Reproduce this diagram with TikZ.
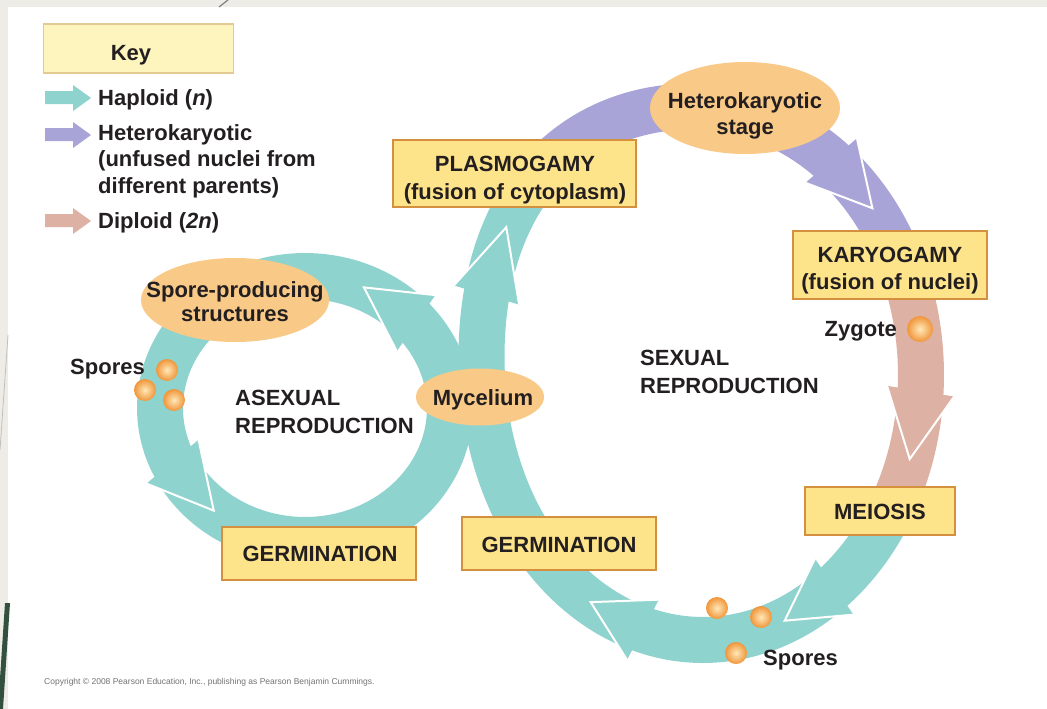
\documentclass[tikz,border=0pt]{standalone}
\usepackage{fontspec}
\setmainfont{Liberation Sans}
\usetikzlibrary{calc,shapes.geometric}

\definecolor{tealc}{HTML}{8FD3CF}
\definecolor{purpc}{HTML}{A8A4D7}
\definecolor{pinkc}{HTML}{DDB1A4}
\definecolor{boxfill}{HTML}{FDE38A}
\definecolor{boxdraw}{HTML}{D4903E}
\definecolor{keyfill}{HTML}{FEF4BE}
\definecolor{keydraw}{HTML}{E2CA92}
\definecolor{ellfill}{HTML}{F9C987}
\definecolor{txt}{HTML}{231F20}
\definecolor{slidebg}{HTML}{EEECE6}
\definecolor{slidegreen}{HTML}{33503F}
\definecolor{sporeL}{HTML}{FFE9B8}
\definecolor{sporeD}{HTML}{F0953A}

\tikzset{
  band/.style={line width=46pt, line cap=butt, line join=round},
  lbl/.style={font=\fontsize{22}{26}\selectfont\bfseries, text=txt, inner sep=0pt, anchor=base},
  lbll/.style={lbl, anchor=base west},
  stagebox/.style={draw=boxdraw, fill=boxfill, line width=1.6pt, inner sep=0pt},
  stageell/.style={ellipse, fill=ellfill, inner sep=0pt},
  spore/.style={inner color=sporeL, outer color=sporeD},
  headedge/.style={white, line width=2pt, line join=miter},
}

% #1 name prefix, #2 colour, #3 x-function, #4 y-function, #5 tip parameter, #6 back parameter
\newcommand{\arrowhd}[6]{%
  \coordinate (#1T) at ({#3(#5)},{#4(#5)});
  \coordinate (#1B) at ({#3(#6)},{#4(#6)});
  \coordinate (#1L) at ($(#1B)!34pt!90:(#1T)$);
  \coordinate (#1R) at ($(#1B)!34pt!-90:(#1T)$);
  \fill[#2] (#1T) -- (#1L) -- (#1R) -- cycle;
  \draw[headedge] (#1L) -- (#1T) -- (#1R);
}

\begin{document}
\begin{tikzpicture}[x=1pt,y=-1pt,
  declare function={
    bump(\t)=16*exp(0-min(((\t-225)/35)^2,8));
    sx(\t)=703+(218+bump(\t))*cos(\t);
    sy(\t)=375+(265+bump(\t))*sin(\t);
    ax(\t)=305+145*cos(\t);
    ay(\t)=408+132*sin(\t);
  }]
\useasboundingbox (0,0) rectangle (1047,709);
% slide background
\fill[slidebg] (0,0) rectangle (1047,709);
\fill[white] (8,7) rectangle (1047,709);
\draw[gray, line width=1.2pt] (228,0) -- (219,7);
\draw[black!25, line width=0.8pt] (8,335) -- (0,450);
\fill[slidegreen] (5,603) -- (10,603) -- (3,709) -- (-2,709) -- cycle;

% key
\node[draw=keydraw, fill=keyfill, line width=1.4pt, minimum width=190pt, minimum height=49pt, inner sep=0pt] (key) at (138.5,48.5) {};
\node[lbl] (keyt) at (131,61) {Key};
\fill[tealc] (45,91) -- (73,91) -- (73,85) -- (91,98) -- (73,111) -- (73,104) -- (45,104) -- cycle;
\fill[purpc] (45,128) -- (73,128) -- (73,122) -- (91,135) -- (73,148) -- (73,141) -- (45,141) -- cycle;
\fill[pinkc] (45,214) -- (73,214) -- (73,208) -- (91,221) -- (73,234) -- (73,227) -- (45,227) -- cycle;
\node[lbll] (k1) at (98,106) {Haploid (\textit{n})};
\node[lbll] (k2) at (98,140) {Heterokaryotic};
\node[lbll] (k3) at (98,166) {(unfused nuclei from};
\node[lbll] (k4) at (98,193) {different parents)};
\node[lbll] (k5) at (98,228) {Diploid (\textit{2n})};

% bands
\draw[band, tealc] plot[domain=0:360, samples=160, variable=\t] ({ax(\t)},{ay(\t)}) -- cycle;
\draw[band, tealc] plot[domain=30:228, samples=110, variable=\t] ({sx(\t)},{sy(\t)});
\draw[band, purpc] plot[domain=228:335, samples=60, variable=\t] ({sx(\t)},{sy(\t)});
\draw[band, pinkc] plot[domain=335:390, samples=30, variable=\t] ({sx(\t)},{sy(\t)});

% arrowheads
\arrowhd{s1}{tealc}{sx}{sy}{212}{197}
\arrowhd{s2}{purpc}{sx}{sy}{321}{306}
\arrowhd{s3}{pinkc}{sx}{sy}{18.5}{3.5}
\arrowhd{s4}{tealc}{sx}{sy}{68}{53}
\arrowhd{s5}{tealc}{sx}{sy}{121}{106}
\arrowhd{a1}{tealc}{ax}{ay}{294}{320}
\arrowhd{a2}{tealc}{ax}{ay}{129}{156}

% stages
\node[stagebox, minimum width=243pt, minimum height=67pt] (plasmo) at (514.5,173.5) {};
\node[lbl] (plasmoA) at (515,171) {PLASMOGAMY};
\node[lbl] (plasmoB) at (515,199) {(fusion of cytoplasm)};

\node[stageell, minimum width=190pt, minimum height=92pt] (hetero) at (745,108) {};
\node[lbl] (heteroA) at (745,108) {Heterokaryotic};
\node[lbl] (heteroB) at (745,134) {stage};

\node[stagebox, minimum width=194pt, minimum height=68pt] (karyo) at (890,265) {};
\node[lbl] (karyoA) at (890,262) {KARYOGAMY};
\node[lbl] (karyoB) at (890,289) {(fusion of nuclei)};

\node[stagebox, minimum width=150pt, minimum height=48pt] (meio) at (880,511) {};
\node[lbl] (meioA) at (880,519) {MEIOSIS};

\node[stagebox, minimum width=194pt, minimum height=53pt] (germR) at (559,543.5) {};
\node[lbl] (germRA) at (559,552) {GERMINATION};

\node[stagebox, minimum width=194pt, minimum height=53pt] (germL) at (319,553.5) {};
\node[lbl] (germLA) at (320,561) {GERMINATION};

\node[stageell, minimum width=188pt, minimum height=84pt] (spore) at (235,300) {};
\node[lbl] (sporeA) at (235,297) {Spore-producing};
\node[lbl] (sporeB) at (235,321) {structures};

\node[stageell, minimum width=128pt, minimum height=57pt] (myc) at (480,397) {};
\node[lbl] (mycA) at (483,405) {Mycelium};

% spores
\shade[spore] (920,329) circle[radius=13pt];
\node[lbl, anchor=base east] (zyg) at (897,336) {Zygote};
\shade[spore] (167,370) circle[radius=11pt];
\shade[spore] (145,390) circle[radius=11pt];
\shade[spore] (174,400) circle[radius=11pt];
\node[lbl, anchor=base east] (sporesL) at (145,374) {Spores};
\shade[spore] (717,608) circle[radius=11pt];
\shade[spore] (761,617) circle[radius=11pt];
\shade[spore] (736,653) circle[radius=11pt];
\node[lbll] (sporesB) at (763,665) {Spores};

% cycle titles
\node[lbll] (sexA) at (640,365) {SEXUAL};
\node[lbll] (sexB) at (640,393) {REPRODUCTION};
\node[lbll] (asexA) at (235,405) {ASEXUAL};
\node[lbll] (asexB) at (235,433) {REPRODUCTION};

\node[anchor=base west, inner sep=0pt, text=black!55, font=\fontsize{8.5}{10}\selectfont] (copy) at (44,684) {Copyright \textcopyright\ 2008 Pearson Education, Inc., publishing as Pearson Benjamin Cummings.};
\end{tikzpicture}
\end{document}
